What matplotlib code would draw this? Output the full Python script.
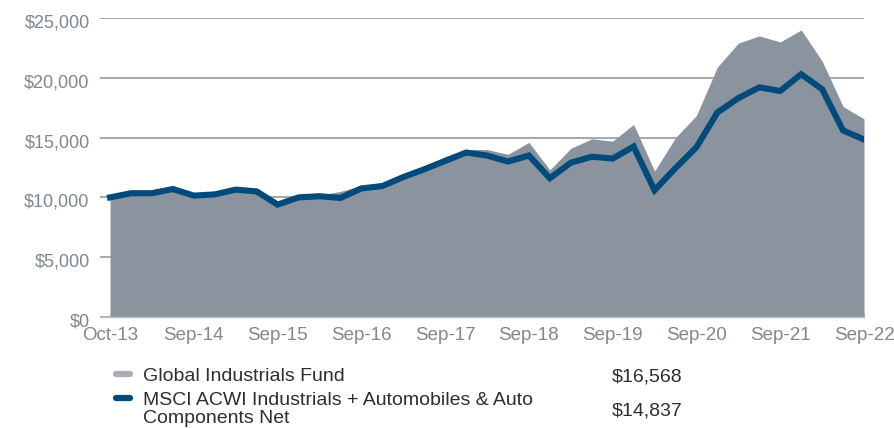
import matplotlib
matplotlib.use('Agg')
import matplotlib.pyplot as plt
import matplotlib.transforms as mtransforms
import numpy as np

plt.rcParams['font.family'] = ['Liberation Sans', 'DejaVu Sans']

# quarterly values, Oct-13 .. Sep-22 (growth of $10,000)
fund = [10000, 10350, 10350, 10700, 10150, 10250, 10650, 10500, 9400, 10050,
        10200, 10500, 11000, 11050, 11900, 12600, 13400, 14000, 14000, 13600,
        14600, 12300, 14100, 14900, 14700, 16100, 12200, 15000, 16850, 20900,
        22900, 23500, 23000, 24000, 21400, 17600, 16568]
index = [10000, 10350, 10350, 10700, 10150, 10250, 10650, 10500, 9400, 10000,
         10100, 9950, 10750, 10950, 11700, 12350, 13050, 13750, 13500, 13000,
         13500, 11600, 12900, 13400, 13250, 14250, 10600, 12450, 14200, 17100,
         18300, 19200, 18900, 20300, 19050, 15600, 14837]
tick_labels = ['Oct-13', 'Sep-14', 'Sep-15', 'Sep-16', 'Sep-17', 'Sep-18',
               'Sep-19', 'Sep-20', 'Sep-21', 'Sep-22']
y_ticks = [0, 5000, 10000, 15000, 20000, 25000]
names = ['Global Industrials Fund',
         'MSCI ACWI Industrials + Automobiles & Auto', 'Components Net']
final_values = ['$16,568', '$14,837']

area_color = '#8a939e'
blue = '#004b7b'
grid_color = '#8c929b'
label_grey = '#7f8791'
text_dark = '#2e2e2e'

fig = plt.figure(figsize=(8.94, 4.28), dpi=100)
ax = fig.add_axes([100/894, 111/428, 764/894, 299/428])

x = np.arange(len(fund))
for v in y_ticks:
    ax.axhline(v, color=grid_color, lw=1.1, zorder=1)
ax.fill_between(x, fund, 0, color=area_color, lw=0, zorder=2)
ax.plot(x, index, color=blue, lw=4.4, solid_joinstyle='miter', zorder=3)

ax.set_xlim(-0.48, 36)
ax.set_ylim(0, 25000)
for s in ['top', 'right', 'left']:
    ax.spines[s].set_visible(False)
ax.spines['bottom'].set_color('#b9bec6')
ax.spines['bottom'].set_linewidth(1)
ax.spines['bottom'].set_zorder(4)

ax.set_xticks(np.arange(0, 37, 4))
ax.set_xticklabels(tick_labels, fontsize=13.5, color=label_grey)
ax.set_xticks(np.arange(0, 37, 1), minor=True)
ax.tick_params(axis='x', which='both', direction='in', length=3,
               color='#b9bec6', pad=7)
ax.set_yticks(y_ticks)
ax.set_yticklabels(['$' + format(v, ',') for v in y_ticks], fontsize=13,
                   color=label_grey)
ax.tick_params(axis='y', length=0, pad=7.5)
shift = mtransforms.ScaledTranslation(0, -3/100, fig.dpi_scale_trans)
for lbl in ax.get_yticklabels():
    lbl.set_transform(lbl.get_transform() + shift)

# legend drawn by hand
def fy(py):
    return (428 - py) / 428

fig.add_artist(plt.Line2D([116/894, 130/894], [fy(374), fy(374)], color='#a9afb8',
                          lw=4.5, solid_capstyle='round'))
fig.add_artist(plt.Line2D([116/894, 130/894], [fy(398), fy(398)], color=blue,
                          lw=4.5, solid_capstyle='round'))
fig.text(143/894, fy(381), names[0], fontsize=14, color=text_dark, va='baseline')
fig.text(143/894, fy(405), names[1], fontsize=14, color=text_dark, va='baseline')
fig.text(143/894, fy(423), names[2], fontsize=14, color=text_dark, va='baseline')
fig.text(612/894, fy(381.5), final_values[0], fontsize=14, color=text_dark, va='baseline')
fig.text(612/894, fy(416), final_values[1], fontsize=14, color=text_dark, va='baseline')

fig.savefig('out.png', dpi=100)
